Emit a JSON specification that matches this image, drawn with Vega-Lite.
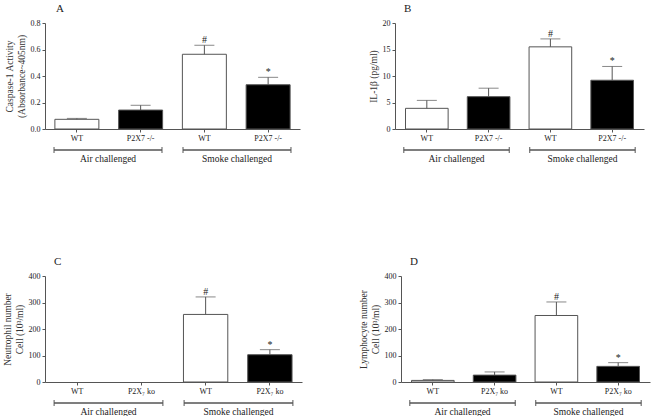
{
  "$schema": "https://vega.github.io/schema/vega-lite/v6.json",
  "padding": {"left": 2, "top": 3, "right": 5, "bottom": 0},
  "background": "white",
  "datasets": {
    "bars": [
      {"panel": "A", "key": "WT|Air", "kind": "wt", "group": "Air challenged", "value": 0.073, "hi": 0.080, "sig": ""},
      {"panel": "A", "key": "P2X7 -/-|Air", "kind": "ko", "group": "Air challenged", "value": 0.143, "hi": 0.179, "sig": ""},
      {"panel": "A", "key": "WT|Smoke", "kind": "wt", "group": "Smoke challenged", "value": 0.564, "hi": 0.632, "sig": "#"},
      {"panel": "A", "key": "P2X7 -/-|Smoke", "kind": "ko", "group": "Smoke challenged", "value": 0.334, "hi": 0.390, "sig": "*"},
      {"panel": "B", "key": "WT|Air", "kind": "wt", "group": "Air challenged", "value": 3.9, "hi": 5.4, "sig": ""},
      {"panel": "B", "key": "P2X7 -/-|Air", "kind": "ko", "group": "Air challenged", "value": 6.1, "hi": 7.7, "sig": ""},
      {"panel": "B", "key": "WT|Smoke", "kind": "wt", "group": "Smoke challenged", "value": 15.5, "hi": 17.0, "sig": "#"},
      {"panel": "B", "key": "P2X7 -/-|Smoke", "kind": "ko", "group": "Smoke challenged", "value": 9.2, "hi": 11.8, "sig": "*"},
      {"panel": "C", "key": "WT|Air", "kind": "wt", "group": "Air challenged", "value": 0, "hi": 0, "sig": ""},
      {"panel": "C", "key": "P2X₇ ko|Air", "kind": "ko", "group": "Air challenged", "value": 0, "hi": 0, "sig": ""},
      {"panel": "C", "key": "WT|Smoke", "kind": "wt", "group": "Smoke challenged", "value": 255, "hi": 321, "sig": "#"},
      {"panel": "C", "key": "P2X₇ ko|Smoke", "kind": "ko", "group": "Smoke challenged", "value": 103, "hi": 122, "sig": "*"},
      {"panel": "D", "key": "WT|Air", "kind": "wt", "group": "Air challenged", "value": 6, "hi": 9, "sig": ""},
      {"panel": "D", "key": "P2X₇ ko|Air", "kind": "ko", "group": "Air challenged", "value": 26, "hi": 38, "sig": ""},
      {"panel": "D", "key": "WT|Smoke", "kind": "wt", "group": "Smoke challenged", "value": 251, "hi": 302, "sig": "#"},
      {"panel": "D", "key": "P2X₇ ko|Smoke", "kind": "ko", "group": "Smoke challenged", "value": 59, "hi": 73, "sig": "*"}
    ]
  },
  "spacing": 93,
  "vconcat": [
    {
      "spacing": 68,
      "hconcat": [
        {
          "spacing": 4,
          "vconcat": [
            {
              "width": 255, "height": 106,
              "title": {"text": "A", "anchor": "start", "frame": "group", "dx": 11, "offset": 5},
              "data": {"name": "bars"},
              "transform": [{"filter": "datum.panel === 'A'"}],
              "encoding": {"x": {"field": "key", "type": "nominal", "sort": null, "scale": {"paddingInner": 0.31, "paddingOuter": 0.155}, "axis": {"title": null, "labelExpr": "split(datum.label,'|')[0]", "labelAngle": 0}}},
              "layer": [
                {"mark": {"type": "bar", "stroke": "#555", "strokeWidth": 1},
                 "encoding": {"y": {"field": "value", "type": "quantitative", "scale": {"domain": [0, 0.8]}, "axis": {"title": ["Caspase-1 Activity", "(Absorbance~405nm)"], "values": [0, 0.2, 0.4, 0.6, 0.8], "format": ".1f"}},
                  "fill": {"field": "kind", "type": "nominal", "scale": {"domain": ["wt", "ko"], "range": ["#ffffff", "#000000"]}, "legend": null},
                  "strokeOpacity": {"condition": {"test": "datum.value <= 0", "value": 0}, "value": 1}}},
                {"mark": {"type": "rule", "color": "#555"}, "transform": [{"filter": "datum.hi > datum.value"}],
                 "encoding": {"y": {"field": "value", "type": "quantitative", "axis": {"title": ["Caspase-1 Activity", "(Absorbance~405nm)"], "values": [0, 0.2, 0.4, 0.6, 0.8], "format": ".1f"}}, "y2": {"field": "hi"}}},
                {"mark": {"type": "tick", "color": "#555", "size": 20, "thickness": 1}, "transform": [{"filter": "datum.hi > datum.value"}],
                 "encoding": {"y": {"field": "hi", "type": "quantitative", "axis": {"title": ["Caspase-1 Activity", "(Absorbance~405nm)"], "values": [0, 0.2, 0.4, 0.6, 0.8], "format": ".1f"}}}},
                {"mark": {"type": "text", "baseline": "bottom", "dy": 0, "fontSize": 10, "color": "#222"},
                 "encoding": {"y": {"field": "hi", "type": "quantitative", "axis": {"title": ["Caspase-1 Activity", "(Absorbance~405nm)"], "values": [0, 0.2, 0.4, 0.6, 0.8], "format": ".1f"}}, "text": {"field": "sig"}}}
              ]
            },
            {
              "width": 255, "height": 12,
              "data": {"name": "bars"},
              "transform": [{"filter": "datum.panel === 'A'"}, {"aggregate": [{"op": "count", "as": "n"}], "groupby": ["group"]}],
              "encoding": {"x": {"field": "group", "type": "nominal", "sort": ["Air challenged", "Smoke challenged"], "scale": {"paddingInner": 0.163, "paddingOuter": 0.07}, "axis": {"title": null, "domain": false, "ticks": false, "labelAngle": 0, "labelFontSize": 9.5, "labelPadding": -6}}},
              "layer": [
                {"mark": {"type": "bar", "stroke": "#555", "strokeWidth": 1}, "encoding": {"y": {"datum": 0.75, "type": "quantitative", "scale": {"domain": [0, 1]}, "axis": null}, "y2": {"datum": 0.75}}},
                {"mark": {"type": "rule", "color": "#555"}, "encoding": {"x": {"field": "group", "type": "nominal", "bandPosition": 0}, "y": {"datum": 0.5, "type": "quantitative", "axis": null}, "y2": {"datum": 1}}},
                {"mark": {"type": "rule", "color": "#555"}, "encoding": {"x": {"field": "group", "type": "nominal", "bandPosition": 1}, "y": {"datum": 0.5, "type": "quantitative", "axis": null}, "y2": {"datum": 1}}}
              ]
            }
          ]
        },
        {
          "spacing": 4,
          "vconcat": [
            {
              "width": 249, "height": 106,
              "title": {"text": "B", "anchor": "start", "frame": "group", "dx": 9, "offset": 5},
              "data": {"name": "bars"},
              "transform": [{"filter": "datum.panel === 'B'"}],
              "encoding": {"x": {"field": "key", "type": "nominal", "sort": null, "scale": {"paddingInner": 0.31, "paddingOuter": 0.17}, "axis": {"title": null, "labelExpr": "split(datum.label,'|')[0]", "labelAngle": 0}}},
              "layer": [
                {"mark": {"type": "bar", "stroke": "#555", "strokeWidth": 1},
                 "encoding": {"y": {"field": "value", "type": "quantitative", "scale": {"domain": [0, 20]}, "axis": {"title": "IL-1β (pg/ml)", "values": [0, 5, 10, 15, 20]}},
                  "fill": {"field": "kind", "type": "nominal", "scale": {"domain": ["wt", "ko"], "range": ["#ffffff", "#000000"]}, "legend": null},
                  "strokeOpacity": {"condition": {"test": "datum.value <= 0", "value": 0}, "value": 1}}},
                {"mark": {"type": "rule", "color": "#555"}, "transform": [{"filter": "datum.hi > datum.value"}],
                 "encoding": {"y": {"field": "value", "type": "quantitative", "axis": {"title": "IL-1β (pg/ml)", "values": [0, 5, 10, 15, 20]}}, "y2": {"field": "hi"}}},
                {"mark": {"type": "tick", "color": "#555", "size": 20, "thickness": 1}, "transform": [{"filter": "datum.hi > datum.value"}],
                 "encoding": {"y": {"field": "hi", "type": "quantitative", "axis": {"title": "IL-1β (pg/ml)", "values": [0, 5, 10, 15, 20]}}}},
                {"mark": {"type": "text", "baseline": "bottom", "dy": 0, "fontSize": 10, "color": "#222"},
                 "encoding": {"y": {"field": "hi", "type": "quantitative", "axis": {"title": "IL-1β (pg/ml)", "values": [0, 5, 10, 15, 20]}}, "text": {"field": "sig"}}}
              ]
            },
            {
              "width": 249, "height": 12,
              "data": {"name": "bars"},
              "transform": [{"filter": "datum.panel === 'B'"}, {"aggregate": [{"op": "count", "as": "n"}], "groupby": ["group"]}],
              "encoding": {"x": {"field": "group", "type": "nominal", "sort": ["Air challenged", "Smoke challenged"], "scale": {"paddingInner": 0.163, "paddingOuter": 0.07}, "axis": {"title": null, "domain": false, "ticks": false, "labelAngle": 0, "labelFontSize": 9.5, "labelPadding": -6}}},
              "layer": [
                {"mark": {"type": "bar", "stroke": "#555", "strokeWidth": 1}, "encoding": {"y": {"datum": 0.75, "type": "quantitative", "scale": {"domain": [0, 1]}, "axis": null}, "y2": {"datum": 0.75}}},
                {"mark": {"type": "rule", "color": "#555"}, "encoding": {"x": {"field": "group", "type": "nominal", "bandPosition": 0}, "y": {"datum": 0.5, "type": "quantitative", "axis": null}, "y2": {"datum": 1}}},
                {"mark": {"type": "rule", "color": "#555"}, "encoding": {"x": {"field": "group", "type": "nominal", "bandPosition": 1}, "y": {"datum": 0.5, "type": "quantitative", "axis": null}, "y2": {"datum": 1}}}
              ]
            }
          ]
        }
      ]
    },
    {
      "spacing": 56,
      "hconcat": [
        {
          "spacing": 4,
          "vconcat": [
            {
              "width": 257, "height": 106,
              "title": {"text": "C", "anchor": "start", "frame": "group", "dx": 9, "offset": 5},
              "data": {"name": "bars"},
              "transform": [{"filter": "datum.panel === 'C'"}],
              "encoding": {"x": {"field": "key", "type": "nominal", "sort": null, "scale": {"paddingInner": 0.31, "paddingOuter": 0.155}, "axis": {"title": null, "labelExpr": "split(datum.label,'|')[0]", "labelAngle": 0}}},
              "layer": [
                {"mark": {"type": "bar", "stroke": "#555", "strokeWidth": 1},
                 "encoding": {"y": {"field": "value", "type": "quantitative", "scale": {"domain": [0, 400]}, "axis": {"title": ["Neutrophil number", "Cell (10³/ml)"], "values": [0, 100, 200, 300, 400]}},
                  "fill": {"field": "kind", "type": "nominal", "scale": {"domain": ["wt", "ko"], "range": ["#ffffff", "#000000"]}, "legend": null},
                  "strokeOpacity": {"condition": {"test": "datum.value <= 0", "value": 0}, "value": 1}}},
                {"mark": {"type": "rule", "color": "#555"}, "transform": [{"filter": "datum.hi > datum.value"}],
                 "encoding": {"y": {"field": "value", "type": "quantitative", "axis": {"title": ["Neutrophil number", "Cell (10³/ml)"], "values": [0, 100, 200, 300, 400]}}, "y2": {"field": "hi"}}},
                {"mark": {"type": "tick", "color": "#555", "size": 20, "thickness": 1}, "transform": [{"filter": "datum.hi > datum.value"}],
                 "encoding": {"y": {"field": "hi", "type": "quantitative", "axis": {"title": ["Neutrophil number", "Cell (10³/ml)"], "values": [0, 100, 200, 300, 400]}}}},
                {"mark": {"type": "text", "baseline": "bottom", "dy": 0, "fontSize": 10, "color": "#222"},
                 "encoding": {"y": {"field": "hi", "type": "quantitative", "axis": {"title": ["Neutrophil number", "Cell (10³/ml)"], "values": [0, 100, 200, 300, 400]}}, "text": {"field": "sig"}}}
              ]
            },
            {
              "width": 257, "height": 12,
              "data": {"name": "bars"},
              "transform": [{"filter": "datum.panel === 'C'"}, {"aggregate": [{"op": "count", "as": "n"}], "groupby": ["group"]}],
              "encoding": {"x": {"field": "group", "type": "nominal", "sort": ["Air challenged", "Smoke challenged"], "scale": {"paddingInner": 0.163, "paddingOuter": 0.07}, "axis": {"title": null, "domain": false, "ticks": false, "labelAngle": 0, "labelFontSize": 9.5, "labelPadding": -6}}},
              "layer": [
                {"mark": {"type": "bar", "stroke": "#555", "strokeWidth": 1}, "encoding": {"y": {"datum": 0.75, "type": "quantitative", "scale": {"domain": [0, 1]}, "axis": null}, "y2": {"datum": 0.75}}},
                {"mark": {"type": "rule", "color": "#555"}, "encoding": {"x": {"field": "group", "type": "nominal", "bandPosition": 0}, "y": {"datum": 0.5, "type": "quantitative", "axis": null}, "y2": {"datum": 1}}},
                {"mark": {"type": "rule", "color": "#555"}, "encoding": {"x": {"field": "group", "type": "nominal", "bandPosition": 1}, "y": {"datum": 0.5, "type": "quantitative", "axis": null}, "y2": {"datum": 1}}}
              ]
            }
          ]
        },
        {
          "spacing": 4,
          "vconcat": [
            {
              "width": 249, "height": 106,
              "title": {"text": "D", "anchor": "start", "frame": "group", "dx": 9, "offset": 5},
              "data": {"name": "bars"},
              "transform": [{"filter": "datum.panel === 'D'"}],
              "encoding": {"x": {"field": "key", "type": "nominal", "sort": null, "scale": {"paddingInner": 0.31, "paddingOuter": 0.17}, "axis": {"title": null, "labelExpr": "split(datum.label,'|')[0]", "labelAngle": 0}}},
              "layer": [
                {"mark": {"type": "bar", "stroke": "#555", "strokeWidth": 1},
                 "encoding": {"y": {"field": "value", "type": "quantitative", "scale": {"domain": [0, 400]}, "axis": {"title": ["Lymphocyte number", "Cell (10³/ml)"], "values": [0, 100, 200, 300, 400]}},
                  "fill": {"field": "kind", "type": "nominal", "scale": {"domain": ["wt", "ko"], "range": ["#ffffff", "#000000"]}, "legend": null},
                  "strokeOpacity": {"condition": {"test": "datum.value <= 0", "value": 0}, "value": 1}}},
                {"mark": {"type": "rule", "color": "#555"}, "transform": [{"filter": "datum.hi > datum.value"}],
                 "encoding": {"y": {"field": "value", "type": "quantitative", "axis": {"title": ["Lymphocyte number", "Cell (10³/ml)"], "values": [0, 100, 200, 300, 400]}}, "y2": {"field": "hi"}}},
                {"mark": {"type": "tick", "color": "#555", "size": 20, "thickness": 1}, "transform": [{"filter": "datum.hi > datum.value"}],
                 "encoding": {"y": {"field": "hi", "type": "quantitative", "axis": {"title": ["Lymphocyte number", "Cell (10³/ml)"], "values": [0, 100, 200, 300, 400]}}}},
                {"mark": {"type": "text", "baseline": "bottom", "dy": 0, "fontSize": 10, "color": "#222"},
                 "encoding": {"y": {"field": "hi", "type": "quantitative", "axis": {"title": ["Lymphocyte number", "Cell (10³/ml)"], "values": [0, 100, 200, 300, 400]}}, "text": {"field": "sig"}}}
              ]
            },
            {
              "width": 249, "height": 12,
              "data": {"name": "bars"},
              "transform": [{"filter": "datum.panel === 'D'"}, {"aggregate": [{"op": "count", "as": "n"}], "groupby": ["group"]}],
              "encoding": {"x": {"field": "group", "type": "nominal", "sort": ["Air challenged", "Smoke challenged"], "scale": {"paddingInner": 0.163, "paddingOuter": 0.07}, "axis": {"title": null, "domain": false, "ticks": false, "labelAngle": 0, "labelFontSize": 9.5, "labelPadding": -6}}},
              "layer": [
                {"mark": {"type": "bar", "stroke": "#555", "strokeWidth": 1}, "encoding": {"y": {"datum": 0.75, "type": "quantitative", "scale": {"domain": [0, 1]}, "axis": null}, "y2": {"datum": 0.75}}},
                {"mark": {"type": "rule", "color": "#555"}, "encoding": {"x": {"field": "group", "type": "nominal", "bandPosition": 0}, "y": {"datum": 0.5, "type": "quantitative", "axis": null}, "y2": {"datum": 1}}},
                {"mark": {"type": "rule", "color": "#555"}, "encoding": {"x": {"field": "group", "type": "nominal", "bandPosition": 1}, "y": {"datum": 0.5, "type": "quantitative", "axis": null}, "y2": {"datum": 1}}}
              ]
            }
          ]
        }
      ]
    }
  ],
  "config": {
    "font": "Liberation Serif",
    "view": {"stroke": null},
    "axis": {"grid": false, "domainColor": "#555", "tickColor": "#555", "labelColor": "#222", "titleColor": "#333", "labelFontSize": 8, "titleFontSize": 9.5, "titleFontWeight": "normal", "tickSize": 3, "labelPadding": 2, "titlePadding": 4},
    "title": {"fontSize": 11, "fontWeight": "normal", "color": "#222"}
  }
}
